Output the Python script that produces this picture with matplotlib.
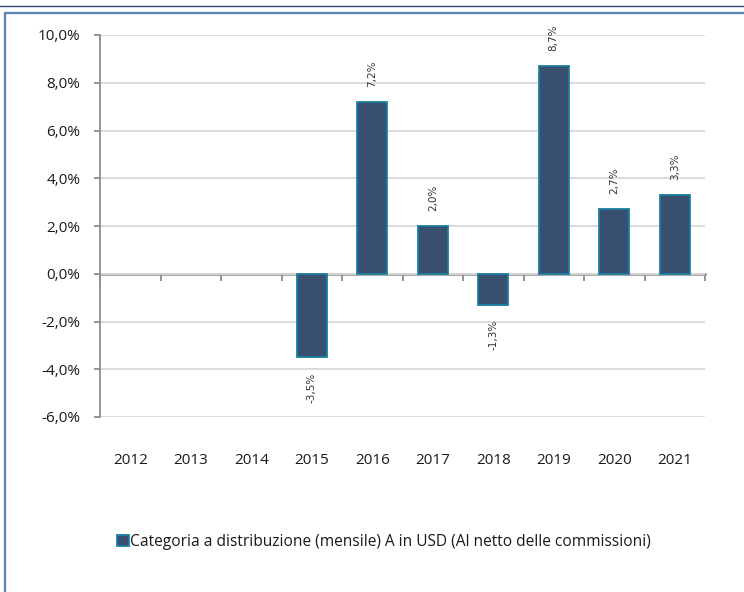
import matplotlib
matplotlib.use('Agg')
import matplotlib.pyplot as plt
import numpy as np
from matplotlib.patches import Rectangle, Patch
from matplotlib.lines import Line2D
from matplotlib.ticker import FuncFormatter

years = ['2012', '2013', '2014', '2015', '2016', '2017', '2018', '2019', '2020', '2021']
returns = [np.nan, np.nan, np.nan, -3.5, 7.2, 2.0, -1.3, 8.7, 2.7, 3.3]
series_name = 'Categoria a distribuzione (mensile) A in USD (Al netto delle commissioni)'

plt.rcParams['font.family'] = ['Open Sans', 'DejaVu Sans']

fig = plt.figure(figsize=(7.44, 5.92), dpi=100)
ax = fig.add_axes([100/744, 1 - 417/592, 605/744, 382/592])

x = np.arange(len(years))
vals = np.array(returns)
ax.bar(x, vals, width=0.5, color='#394f6f', edgecolor='#1a7fa0', linewidth=1.3, zorder=3)

# data labels, rotated
for xi, v in zip(x, vals):
    if np.isnan(v):
        continue
    lab = f'{v:.1f}%'.replace('.', ',')
    off = 11 if v >= 0 else -11
    ax.annotate(lab, (xi, v), xytext=(0, off), textcoords='offset points',
                rotation=90, ha='center', va='bottom' if v >= 0 else 'top',
                fontsize=7.5, color='#333333',
                family=['Liberation Sans Narrow', 'DejaVu Sans'])

ax.set_xlim(-0.5, len(years) - 0.5)
ax.set_ylim(-6, 10)
ax.set_yticks(np.arange(-6, 10.1, 2))
ax.yaxis.set_major_formatter(FuncFormatter(lambda v, p: f'{v:.1f}%'.replace('.', ',')))
ax.grid(axis='y', color='#d9d9d9', linewidth=1.3, zorder=0)
ax.set_axisbelow(True)

for s in ['top', 'right', 'bottom']:
    ax.spines[s].set_visible(False)
ax.spines['left'].set_color('#8c8c8c')
ax.spines['left'].set_linewidth(1.3)
ax.tick_params(axis='y', direction='out', length=4, color='#8c8c8c', width=1.3,
               labelsize=11, labelcolor='#1a1a1a', pad=10)

ax.set_xticks(x)
ax.set_xticklabels(years)
ax.tick_params(axis='x', length=0, labelsize=11, labelcolor='#1a1a1a', pad=26)

# zero line with ticks at category boundaries
sec = ax.secondary_xaxis(0, transform=ax.transData)
sec.set_xticks(np.arange(-0.5, len(years), 1.0))
sec.set_xticklabels([])
sec.spines['bottom'].set_color('#8c8c8c')
sec.spines['bottom'].set_linewidth(1.8)
sec.tick_params(axis='x', direction='out', length=5, color='#8c8c8c', width=1.3)

# legend
handle = Patch(facecolor='#394f6f', edgecolor='#1a7fa0', linewidth=1.3)
fig.legend([handle], [series_name], loc='center', bbox_to_anchor=(384/744, 1 - 542/592),
           frameon=False, fontsize=11.2, handlelength=0.75, handleheight=0.75,
           handletextpad=0.1, labelcolor='#1a1a1a')

# outer frame and top rule
fig.add_artist(Rectangle((5/744, -0.05), 1.0, 1 - 12.5/592 + 0.05, transform=fig.transFigure,
                         fill=False, edgecolor='#5f86b3', linewidth=1.6))
fig.add_artist(Line2D([0, 1], [1 - 6/592, 1 - 6/592], transform=fig.transFigure,
                      color='#2c4a6e', linewidth=1.0))

fig.savefig('out.png', dpi=100)
